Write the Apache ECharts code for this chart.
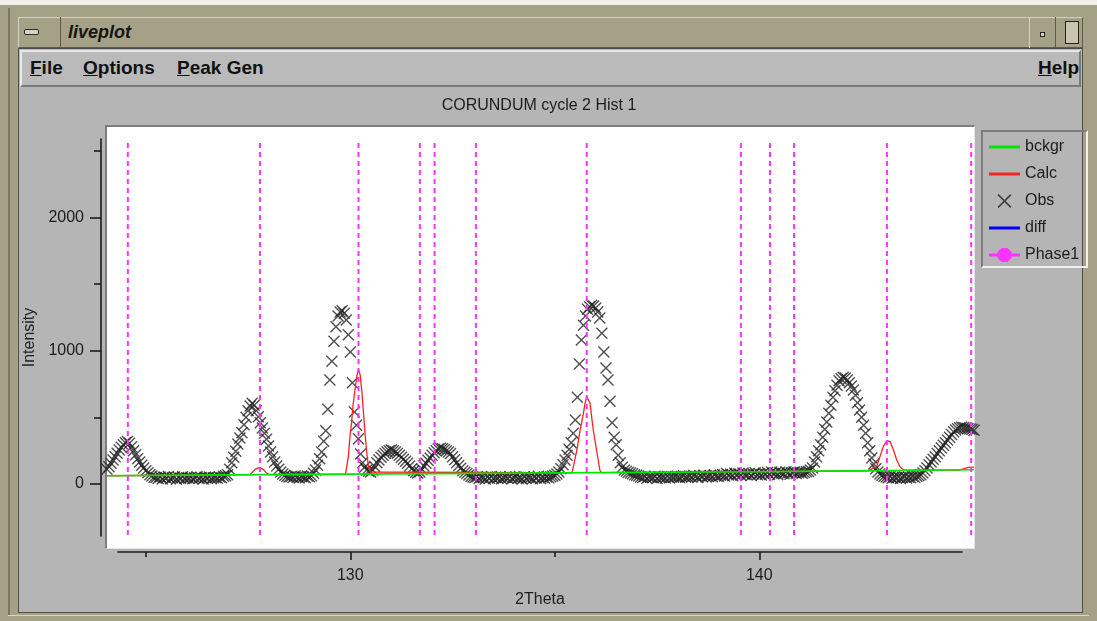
<!DOCTYPE html>
<html>
<head>
<meta charset="utf-8">
<title>liveplot</title>
<script src="https://cdn.jsdelivr.net/npm/echarts@6/dist/echarts.min.js"></script>
<style>
html, body { margin: 0; padding: 0; }
body {
    width: 1097px; height: 621px; overflow: hidden; position: relative;
    background: #a5a186;
    font-family: "Liberation Sans", Arial, Helvetica, sans-serif;
}
.abs { position: absolute; box-sizing: border-box; }
#screenTop { left: 0; top: 0; width: 1097px; height: 5px; background: #efefec; }
#frameL { left: 8px; top: 8px; width: 2px; height: 608px; background: #7b775f; }
#frameB { left: 8px; top: 615px; width: 1081px; height: 1px; background: #d8d5c3; }
#titlebar { left: 18px; top: 17px; width: 1065px; height: 31px; background: #a5a186;
    border: 1px solid #5f5b47; border-top-color: #d5d2bf; border-left-color: #d5d2bf; }
#btnMenu { left: 18px; top: 17px; width: 43px; height: 31px; border-right: 1px solid #5f5b47; }
#btnMenuIcon { left: 24px; top: 29px; width: 15px; height: 6px; border: 1px solid #2a2a2a;
    border-radius: 2px; background: #d6d3c2; }
#titleText { left: 68px; top: 19px; font-weight: bold; font-style: italic; font-size: 18px;
    line-height: 26px; color: #151515; }
#btnMin { left: 1029px; top: 17px; width: 27px; height: 31px; border-left: 1px solid #d5d2bf;
    border-right: 1px solid #5f5b47; }
#btnMinIcon { left: 1040px; top: 32px; width: 5px; height: 5px; border: 1px solid #222; background: #d6d3c2; }
#btnMaxIcon { left: 1065px; top: 21px; width: 14px; height: 23px; border: 1px solid #222; background: #c9c5ad; }
#client { left: 18px; top: 48px; width: 1065px; height: 565px; background: #b5b5b5; border: 1px solid #4f4f4f; }
#menubar { left: 20px; top: 50px; width: 1061px; height: 37px; background: #bababa;
    border: 2px solid #7a7a7a; border-top-color: #e8e8e8; border-left-color: #e8e8e8; }
.menu { position: absolute; top: 55px; font-weight: bold; font-size: 19px; line-height: 26px; color: #111; }
#plotFrame { left: 105px; top: 125px; width: 870px; height: 424px;
    border-top: 2px solid #7d7d7d; border-left: 2px solid #7d7d7d;
    border-right: 1px solid #e4e4e4; border-bottom: 1px solid #e4e4e4; }
#legendFrame { left: 981px; top: 130px; width: 107px; height: 138px;
    border: 2px solid #f2f2f2; border-top-color: #7d7d7d; border-left-color: #7d7d7d; }
#chart { left: 0; top: 0; width: 1097px; height: 621px; }
</style>
</head>
<body>
<div id="screenTop" class="abs"></div>
<div id="frameL" class="abs"></div>
<div id="frameB" class="abs"></div>
<div id="titlebar" class="abs"></div>
<div id="btnMenu" class="abs"></div>
<div id="btnMenuIcon" class="abs"></div>
<div id="titleText" class="abs">liveplot</div>
<div id="btnMin" class="abs"></div>
<div id="btnMinIcon" class="abs"></div>
<div id="btnMaxIcon" class="abs"></div>
<div id="client" class="abs"></div>
<div id="menubar" class="abs"></div>
<div class="menu" style="left:30px"><u>F</u>ile</div>
<div class="menu" style="left:83px"><u>O</u>ptions</div>
<div class="menu" style="left:177px"><u>P</u>eak Gen</div>
<div class="menu" style="left:1038px"><u>H</u>elp</div>
<div id="plotFrame" class="abs"></div>
<div id="legendFrame" class="abs"></div>
<div id="chart" class="abs"></div>

<script>
// scan grid of the observed pattern (2Theta, deg)
var obsStart = 124.05;
var obsStep = 0.05;

// observed intensities, one row per degree
var obsIntensity = [
    110,130,155,180,205,230,255,275,295,310,318,305,280,250,220,190,165,140,120,100,
    85,70,60,50,48,42,52,38,50,45,56,40,47,52,36,49,44,55,41,47,
    43,51,39,46,54,42,48,37,50,45,53,40,46,49,44,52,47,58,62,70,
    110,160,200,245,300,345,385,445,500,550,585,605,590,550,505,460,420,380,335,285,
    240,205,165,135,110,90,75,65,58,52,55,48,60,50,45,57,52,47,60,54,
    62,80,105,140,190,240,320,400,560,780,920,1070,1180,1260,1290,1300,1280,1230,1120,990,
    760,540,440,340,225,160,125,105,95,90,105,130,160,180,200,215,228,240,250,255,
    250,240,228,215,200,185,170,155,135,115,100,88,82,90,110,135,155,178,195,215,
    235,250,262,268,265,258,250,240,228,205,182,160,138,118,100,88,78,68,58,52,
    48,55,42,50,46,38,52,44,57,41,49,45,53,39,47,51,43,56,40,48,
    52,44,47,38,55,42,50,46,39,53,45,58,41,49,44,52,47,55,60,66,
    75,90,115,145,180,215,260,310,380,480,650,900,1080,1190,1260,1310,1330,1340,1335,1320,
    1290,1245,1130,990,870,780,620,460,350,295,215,160,125,105,95,88,82,76,70,66,
    60,52,48,57,44,53,50,46,58,42,55,49,51,45,59,47,54,50,56,52,
    48,57,62,50,55,60,53,64,58,49,61,56,66,52,59,63,55,68,60,57,
    65,72,60,78,68,74,62,80,70,76,66,82,72,69,78,64,75,84,70,77,
    68,80,74,86,72,90,78,84,70,88,80,76,92,82,74,86,90,78,84,88,
    80,86,92,96,105,120,165,205,250,295,350,410,465,530,590,650,700,740,775,790,
    800,795,780,760,735,705,665,610,555,500,440,380,310,250,195,150,115,90,75,65,
    58,52,47,55,44,50,46,53,42,49,55,45,51,47,56,50,58,62,70,82,
    100,120,145,165,185,205,228,250,270,290,310,330,350,372,392,405,415,422,425,424,
    420,416,412,408,404
];

// calculated profile [2Theta, intensity]
var calcPoints = [
    [124.05, 62], [127.55, 70], [127.59, 80], [127.67, 110], [127.78, 125], [127.87, 110],
    [127.96, 80], [128.02, 70], [129.88, 73], [129.91, 85], [129.95, 200], [129.99, 350],
    [130.03, 460], [130.07, 600], [130.12, 720], [130.16, 810], [130.2, 860], [130.24, 820],
    [130.28, 700], [130.32, 540], [130.36, 380], [130.4, 240], [130.44, 140], [130.48, 90],
    [130.52, 75], [135.42, 84], [135.45, 90], [135.54, 255], [135.62, 405], [135.7, 532],
    [135.74, 607], [135.78, 655], [135.82, 640], [135.86, 607], [135.94, 405], [136.02, 255],
    [136.1, 105], [136.14, 86], [142.66, 98], [142.69, 100], [142.87, 130], [142.95, 205],
    [143.03, 280], [143.12, 325], [143.2, 317], [143.28, 255], [143.36, 180], [143.44, 130],
    [143.52, 105], [143.56, 100], [144.9, 104], [144.95, 110], [145.11, 125], [145.25, 126]
];

// background curve [2Theta, intensity]
var bckgrPoints = [
    [124.05, 62], [126, 66], [128, 70], [130, 74], [132, 78], [134, 82], [136, 85],
    [138, 88], [140, 92], [141.5, 96], [143, 100], [144, 103], [145.25, 107]
];

// difference curve (nothing of it falls inside the window)
var diffPoints = [];

// Phase1 reflection positions
var phase1Pos = [124.56, 127.79, 130.2, 131.7, 132.06, 133.07, 135.78, 139.55, 140.26, 140.85, 143.12, 145.18];

// axis ticks
var xMajorTicks = [130, 140];
var xMinorTicks = [125, 135];
var yMajorTicks = [0, 1000, 2000];
var yMinorTicks = [500, 1500, 2500];

var FONT = '"Liberation Sans", Arial, Helvetica, sans-serif';
var INK = '#1c1c1c';

var obsData = obsIntensity.map(function (v, i) {
    return [+(obsStart + i * obsStep).toFixed(2), v];
});

var crossPath = 'path://M0,1 L1,0 L6,5 L11,0 L12,1 L7,6 L12,11 L11,12 L6,7 L1,12 L0,11 L5,6 Z';
var lineIcon = 'path://M0,0 L31,0 L31,3 L0,3 Z';
var phaseIcon = 'path://M0,5.5 L8.5,5.5 L8.5,4.1 L12.6,0 L18.4,0 L22.5,4.1 L22.5,5.5 L31,5.5 L31,8.5 L22.5,8.5 L22.5,9.9 L18.4,14 L12.6,14 L8.5,9.9 L8.5,8.5 L0,8.5 Z';

function plainNumber(v) { return String(v); }

var myChart = echarts.init(document.getElementById('chart'));

var option = {
    animation: false,
    title: {
        text: 'CORUNDUM cycle 2 Hist 1',
        left: 539, top: 98, padding: 0, textAlign: 'center',
        textStyle: { fontFamily: FONT, fontSize: 16, fontWeight: 'normal', color: INK }
    },
    legend: {
        orient: 'vertical', left: 989, top: 139, padding: 0,
        itemWidth: 31, itemHeight: 14, itemGap: 11, itemTextGap: 4,
        selectedMode: false,
        textStyle: { fontFamily: FONT, fontSize: 16, color: INK },
        data: [
            { name: 'bckgr', icon: lineIcon },
            { name: 'Calc', icon: lineIcon },
            { name: 'Obs' },
            { name: 'diff', icon: lineIcon },
            { name: 'Phase1', icon: phaseIcon }
        ]
    },
    grid: [
        { left: 107, top: 127, width: 867, height: 421, show: true, backgroundColor: '#ffffff', borderWidth: 0 },
        { left: 118, top: 139, width: 844, height: 397, show: false }
    ],
    xAxis: [
        { gridIndex: 0, type: 'value', min: 124.051, max: 145.249, show: false },
        {
            gridIndex: 1, type: 'value', min: 124.32, max: 144.956, position: 'bottom', offset: 16,
            name: '2Theta', nameLocation: 'middle', nameGap: 40,
            nameTextStyle: { fontFamily: FONT, fontSize: 16, color: INK },
            axisLine: { show: true, onZero: false, lineStyle: { color: INK, width: 1.6 } },
            axisTick: { show: true, customValues: xMajorTicks, length: 8, lineStyle: { color: INK, width: 1.6 } },
            axisLabel: { show: true, customValues: xMajorTicks, formatter: plainNumber, margin: 16,
                fontFamily: FONT, fontSize: 16, color: INK },
            splitLine: { show: false }
        },
        {
            gridIndex: 1, type: 'value', min: 124.32, max: 144.956, position: 'bottom', offset: 16,
            axisLine: { show: false, onZero: false },
            axisTick: { show: true, customValues: xMinorTicks, length: 5, lineStyle: { color: INK, width: 1.6 } },
            axisLabel: { show: false },
            splitLine: { show: false }
        }
    ],
    yAxis: [
        { gridIndex: 0, type: 'value', min: -480, max: 2677.5, show: false },
        {
            gridIndex: 1, type: 'value', min: -390, max: 2587.5, position: 'left', offset: 17,
            name: 'Intensity', nameLocation: 'middle', nameGap: 63, nameRotate: 90,
            nameTextStyle: { fontFamily: FONT, fontSize: 16, color: INK },
            axisLine: { show: true, onZero: false, lineStyle: { color: INK, width: 1.6 } },
            axisTick: { show: true, customValues: yMajorTicks, length: 11, lineStyle: { color: INK, width: 1.6 } },
            axisLabel: { show: true, customValues: yMajorTicks, formatter: plainNumber, margin: 17,
                fontFamily: FONT, fontSize: 16, color: INK },
            splitLine: { show: false }
        },
        {
            gridIndex: 1, type: 'value', min: -390, max: 2587.5, position: 'left', offset: 17,
            axisLine: { show: false, onZero: false },
            axisTick: { show: true, customValues: yMinorTicks, length: 7, lineStyle: { color: INK, width: 1.6 } },
            axisLabel: { show: false },
            splitLine: { show: false }
        }
    ],
    series: [
        {
            name: 'Obs', type: 'scatter', xAxisIndex: 0, yAxisIndex: 0, z: 2,
            symbol: crossPath, symbolSize: 12,
            itemStyle: { color: '#262626' },
            data: obsData
        },
        {
            name: 'Calc', type: 'line', xAxisIndex: 0, yAxisIndex: 0, z: 3,
            symbol: 'none', color: '#ff2020',
            lineStyle: { color: '#ff2020', width: 1.3 },
            data: calcPoints
        },
        {
            name: 'bckgr', type: 'line', xAxisIndex: 0, yAxisIndex: 0, z: 4,
            symbol: 'none', color: '#00e600',
            lineStyle: { color: '#00e600', width: 1.7 },
            data: bckgrPoints
        },
        {
            name: 'diff', type: 'line', xAxisIndex: 0, yAxisIndex: 0, z: 4,
            symbol: 'none', color: '#0000ff',
            lineStyle: { color: '#0000ff', width: 1.5 },
            data: diffPoints
        },
        {
            name: 'Phase1', type: 'custom', xAxisIndex: 0, yAxisIndex: 0, z: 5,
            itemStyle: { color: '#ff33ff' },
            data: phase1Pos.map(function (v) { return [v, 0]; }),
            renderItem: function (params, api) {
                // reflection tick runs from -390 up to 2557 in intensity units
                var p1 = api.coord([api.value(0), 2557]);
                var p2 = api.coord([api.value(0), -390]);
                return {
                    type: 'line',
                    shape: { x1: p1[0], y1: p1[1], x2: p2[0], y2: p2[1] },
                    style: { stroke: '#ff33ff', lineWidth: 2, lineDash: [5, 4] }
                };
            }
        }
    ]
};

myChart.setOption(option);
</script>
</body>
</html>
